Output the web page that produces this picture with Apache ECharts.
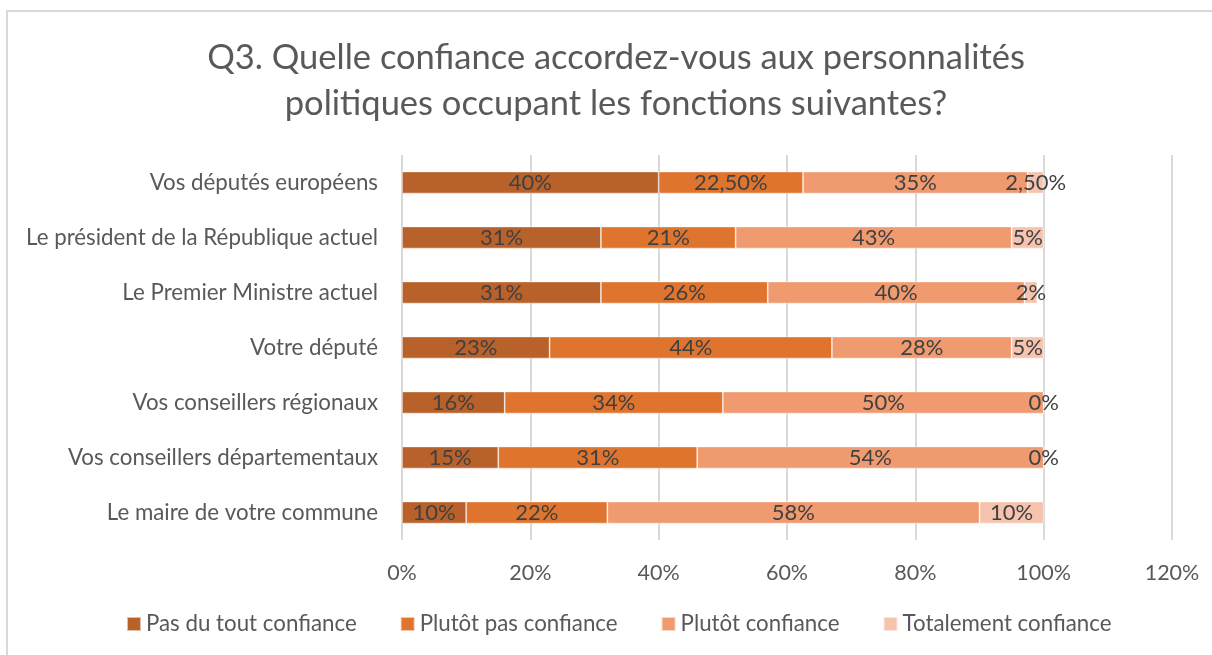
<!DOCTYPE html>
<html><head><meta charset="utf-8">
<script src="https://cdn.jsdelivr.net/npm/echarts@6/dist/echarts.min.js"></script>
<style>
html,body{margin:0;padding:0;background:#fff;overflow:hidden;}
#frame{position:absolute;left:6px;top:10px;width:1230px;height:680px;border:2px solid #D9D9D9;box-sizing:border-box;}
#c{position:absolute;left:0;top:0;width:1212px;height:655px;}
</style></head>
<body>
<div id="frame"></div>
<div id="c"></div>
<script>
const categories = ["Vos députés européens","Le président de la République actuel","Le Premier Ministre actuel","Votre député","Vos conseillers régionaux","Vos conseillers départementaux","Le maire de votre commune"];
const seriesNames = ["Pas du tout confiance","Plutôt pas confiance","Plutôt confiance","Totalement confiance"];
const pasDuTout = [40,31,31,23,16,15,10];
const plutotPas = [22.5,21,26,44,34,31,22];
const plutot = [35,43,40,28,50,54,58];
const totalement = [2.5,5,2,5,0,0,10];
const xTicks = [0,20,40,60,80,100,120];
const colors = ["#B9612A","#DF742F","#F09A6F","#F6C3AF"];

const fmt = v => (Number.isInteger(v) ? v + '%' : v.toFixed(2).replace('.', ',') + '%');
const FONT = 'Lato';
const chart = echarts.init(document.getElementById('c'), null, {renderer:'canvas'});
const allData = [pasDuTout, plutotPas, plutot, totalement];
chart.setOption({
  animation:false,
  title:{text:'Q3. Quelle confiance accordez-vous aux personnalités\npolitiques occupant les fonctions suivantes?',left:611,top:30,textAlign:'center',
    textStyle:{fontFamily:FONT,fontSize:34.5,fontWeight:'normal',color:'#595959',lineHeight:46}},
  grid:{left:402,right:40,top:155,bottom:115,containLabel:false},
  xAxis:{type:'value',min:xTicks[0],max:xTicks[xTicks.length-1],interval:20,
    axisLine:{show:false},axisTick:{show:false},
    splitLine:{show:true,lineStyle:{color:'#D9D9D9',width:2}},
    axisLabel:{margin:22,fontFamily:FONT,fontSize:21.5,color:'#595959',formatter:v=>v+'%'}},
  yAxis:{type:'category',data:categories,inverse:true,
    axisLine:{show:false},axisTick:{show:false},
    axisLabel:{margin:24,fontFamily:FONT,fontSize:22.3,color:'#595959'}},
  legend:{bottom:15,left:121,itemWidth:14,itemHeight:14,itemGap:43,icon:'rect',
    textStyle:{fontFamily:FONT,fontSize:22.3,color:'#595959'},data:seriesNames},
  series: seriesNames.map((n,i)=>({
    name:n,type:'bar',stack:'total',barWidth:22,data:allData[i],
    itemStyle:{color:colors[i],borderColor:'rgba(255,255,255,0.6)',borderWidth:0.75},
    label:{show:true,position:'inside',fontFamily:FONT,fontSize:22,color:'#404040',formatter:p=>fmt(p.value)}
  }))
});
</script>
</body></html>
